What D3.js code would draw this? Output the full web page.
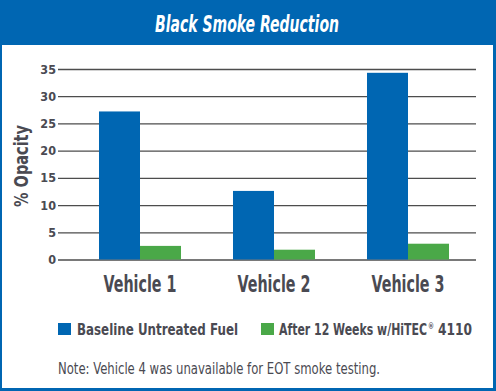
<!DOCTYPE html>
<html>
<head>
<meta charset="utf-8">
<script src="https://cdn.jsdelivr.net/npm/d3@7"></script>
<style>
  body { margin: 0; background: #ffffff; }
</style>
</head>
<body>
<div id="chart"></div>
<script>
let width = 496;
let height = 391;

let vehicles = ["Vehicle 1", "Vehicle 2", "Vehicle 3"];
let seriesNames = ["Baseline Untreated Fuel", "After 12 Weeks w/HiTEC® 4110"];
let baseline = [27.2, 12.6, 34.3];
let after12 = [2.5, 1.8, 2.9];
let yTicks = [0, 5, 10, 15, 20, 25, 30, 35];

let blue = "#0066b2";
let green = "#4aa848";
let textColor = "#4a4a52";
let font = "'Liberation Sans Narrow', 'DejaVu Sans Condensed', 'Roboto', sans-serif";

let svg = d3.select("#chart")
  .append("svg")
  .attr("width", width)
  .attr("height", height)
  .style("display", "block");

// frame: blue band on top and thin blue border around
svg.append("rect")
  .attr("width", width).attr("height", height)
  .attr("fill", blue);
svg.append("rect")
  .attr("x", 2).attr("y", 45)
  .attr("width", 491).attr("height", 343)
  .attr("fill", "#ffffff");

svg.append("text")
  .attr("x", 247).attr("y", 31.5)
  .attr("text-anchor", "middle")
  .attr("fill", "#ffffff")
  .attr("font-family", font)
  .attr("font-weight", "bold")
  .attr("font-style", "italic")
  .attr("font-size", 22.5)
  .attr("textLength", 184)
  .attr("lengthAdjust", "spacingAndGlyphs")
  .text("Black Smoke Reduction");

let y = d3.scaleLinear()
  .domain([0, 35])
  .range([259.5, 69]);

let x0 = d3.scaleBand()
  .domain(vehicles)
  .range([73, 475])
  .paddingInner(0.388)
  .paddingOuter(0.194);

let x1 = d3.scaleBand()
  .domain(seriesNames)
  .range([0, x0.bandwidth()]);

// gridlines
svg.append("g")
  .attr("id", "y-axis")
  .attr("transform", "translate(58,0)")
  .call(d3.axisRight(y).tickValues(yTicks).tickSize(418).tickFormat(""))
  .call(g => g.select(".domain").remove())
  .call(g => g.selectAll("line").attr("stroke", "#4d4d4d").attr("stroke-width", 1.3));

svg.append("g")
  .selectAll("text")
  .data(yTicks)
  .enter()
  .append("text")
  .attr("x", 56)
  .attr("y", d => y(d) + 4.5)
  .attr("text-anchor", "end")
  .attr("fill", textColor)
  .attr("font-family", font)
  .attr("font-weight", "bold")
  .attr("font-size", 12.5)
  .text(d => d);

svg.append("text")
  .attr("transform", "translate(28,166) rotate(-90)")
  .attr("text-anchor", "middle")
  .attr("fill", textColor)
  .attr("font-family", font)
  .attr("font-weight", "bold")
  .attr("font-size", 20)
  .attr("textLength", 82)
  .attr("lengthAdjust", "spacingAndGlyphs")
  .text("% Opacity");

let rows = vehicles.map((v, i) => ({ vehicle: v, values: [baseline[i], after12[i]] }));

let groups = svg.append("g")
  .attr("id", "bars")
  .selectAll("g")
  .data(rows)
  .enter()
  .append("g")
  .attr("transform", d => `translate(${x0(d.vehicle)},0)`);

groups.selectAll("rect")
  .data(d => d.values.map((v, j) => ({ name: seriesNames[j], value: v })))
  .enter()
  .append("rect")
  .attr("x", d => x1(d.name))
  .attr("y", d => y(d.value))
  .attr("width", x1.bandwidth())
  .attr("height", d => y(0) - y(d.value))
  .attr("fill", (d, j) => j == 0 ? blue : green);

svg.append("g")
  .selectAll("text")
  .data(vehicles)
  .enter()
  .append("text")
  .attr("x", d => x0(d) + x0.bandwidth() / 2)
  .attr("y", 291.5)
  .attr("text-anchor", "middle")
  .attr("fill", textColor)
  .attr("font-family", font)
  .attr("font-weight", "bold")
  .attr("font-size", 23)
  .attr("textLength", 73)
  .attr("lengthAdjust", "spacingAndGlyphs")
  .text(d => d);

// legend
let legendX = [58, 261];
let legend = svg.append("g")
  .selectAll("g")
  .data(seriesNames)
  .enter()
  .append("g")
  .attr("transform", (d, i) => `translate(${legendX[i]},323)`);

legend.append("rect")
  .attr("width", 13).attr("height", 12)
  .attr("fill", (d, i) => i == 0 ? blue : green);

// label pieces: [x, width, size, y]; the registered mark is a small superscript
let pieceLayout = [
  [[19, 161, 16, 12]],
  [[18, 148, 15, 12], [167, 6, 8, 6], [177, 34, 16, 12]]
];

legend.each(function (d, i) {
  let texts = d.replace("®", "|®|").split("|").map(s => s.trim());
  d3.select(this).selectAll("text")
    .data(texts)
    .enter()
    .append("text")
    .attr("x", (s, k) => pieceLayout[i][k][0])
    .attr("y", (s, k) => pieceLayout[i][k][3])
    .attr("textLength", (s, k) => pieceLayout[i][k][1])
    .attr("lengthAdjust", "spacingAndGlyphs")
    .attr("font-size", (s, k) => pieceLayout[i][k][2])
    .attr("fill", textColor)
    .attr("font-family", font)
    .attr("font-weight", "bold")
    .text(s => s);
});

svg.append("text")
  .attr("x", 58).attr("y", 374)
  .attr("fill", textColor)
  .attr("font-family", font)
  .attr("font-size", 16)
  .attr("textLength", 322)
  .attr("lengthAdjust", "spacingAndGlyphs")
  .text("Note: Vehicle 4 was unavailable for EOT smoke testing.");
</script>
</body>
</html>
